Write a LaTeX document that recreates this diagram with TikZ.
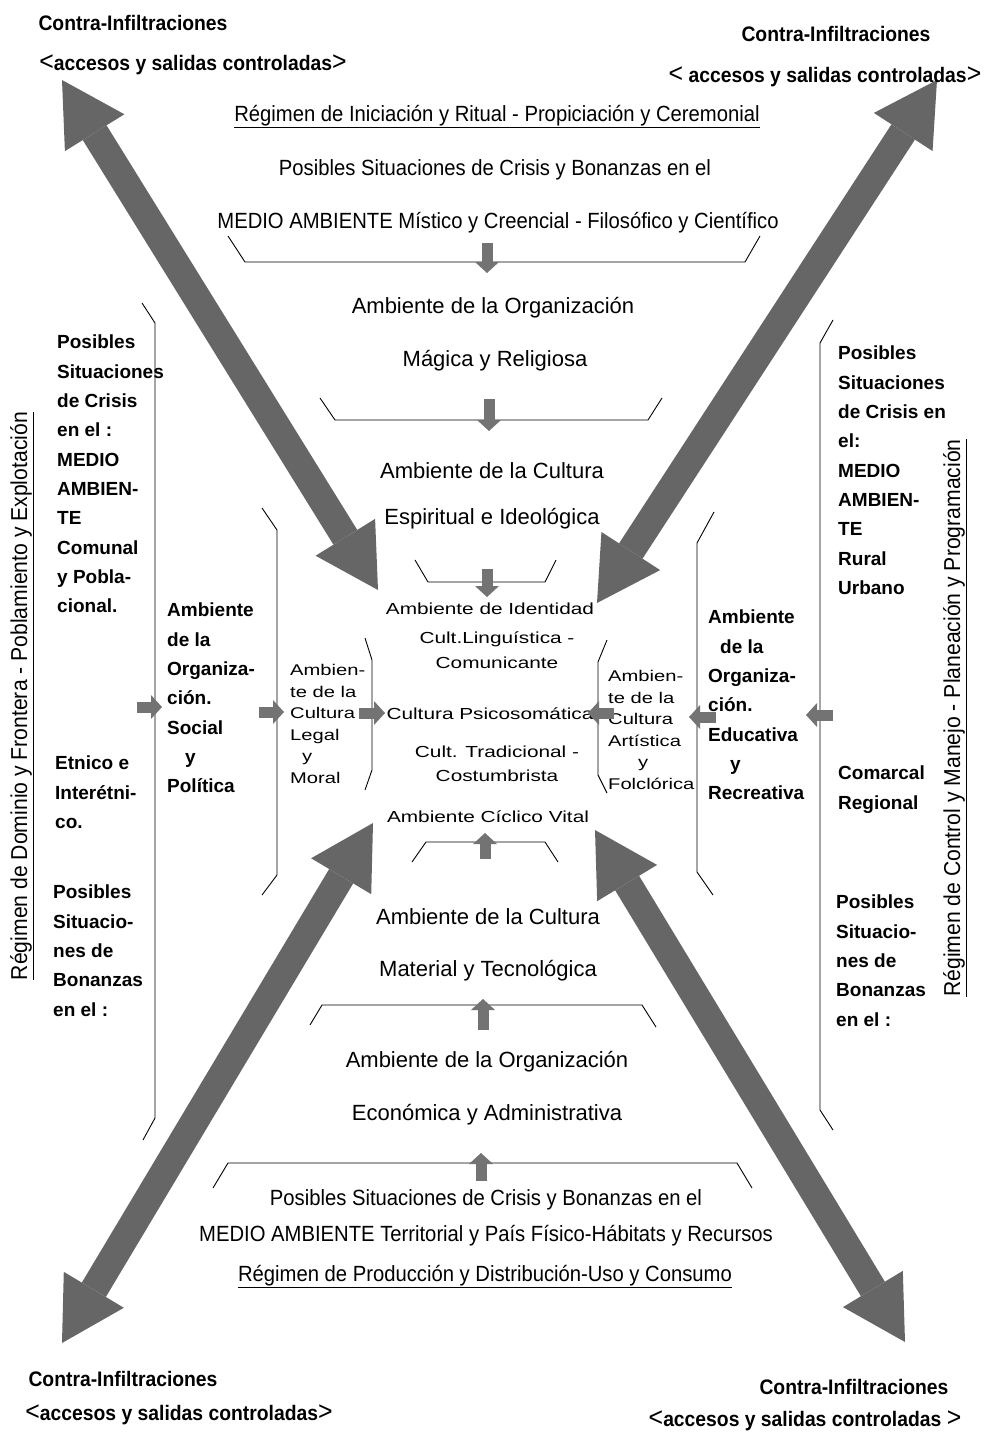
\documentclass[tikz,border=0pt]{standalone}
\usepackage{fontspec}
\setmainfont{Liberation Sans}
\newfontfamily\condfont[FakeStretch=0.92]{Liberation Sans}
\newfontfamily\widefont[FakeStretch=1.3]{Liberation Sans}
\usetikzlibrary{arrows.meta}

\newcommand{\lchev}{{\mdseries\fontsize{27}{27}\selectfont<}}
\newcommand{\rchev}{{\mdseries\fontsize{27}{27}\selectfont>}}

\tikzset{
  regime/.style={font=\condfont\fontsize{22}{26}\selectfont, inner sep=0pt, anchor=base},
  corner/.style={font=\condfont\bfseries\fontsize{21}{24}\selectfont, inner sep=0pt, anchor=base},
  midtext/.style={font=\fontsize{22}{26}\selectfont, inner sep=0pt, anchor=base},
  widetext/.style={font=\widefont\fontsize{16}{24.5}\selectfont, inner sep=0pt, align=center},
  sidecol/.style={font=\bfseries\fontsize{19}{29.3}\selectfont, inner sep=0pt, align=left, anchor=north west},
  innercol/.style={font=\widefont\fontsize{15.5}{21.6}\selectfont, inner sep=0pt, align=left, anchor=north west},
  sideregime/.style={font=\condfont\fontsize{23}{26}\selectfont, inner sep=0pt, rotate=90},
  brk/.style={line width=0.9pt},
  bigarrow/.style={line width=28pt, black!60,
    {Triangle[width=70pt,length=62pt,line width=0pt]}-{Triangle[width=70pt,length=62pt,line width=0pt]}},
  smallarr/.style={line width=11pt, black!55, -{Triangle[width=24pt,length=11pt,line width=0pt]}}
}

\begin{document}
\begin{tikzpicture}[x=1pt, y=-1pt, line join=round]
\useasboundingbox (0,0) rectangle (983,1432);

% big diagonal arrows
\coordinate (nwOut) at (62,80);    \coordinate (nwIn) at (378,590);
\coordinate (neOut) at (937,80);   \coordinate (neIn) at (597,603);
\coordinate (swOut) at (62,1343);  \coordinate (swIn) at (373,823);
\coordinate (seOut) at (905,1342); \coordinate (seIn) at (595,830);
\draw[bigarrow] (nwOut) -- (nwIn);
\draw[bigarrow] (neOut) -- (neIn);
\draw[bigarrow] (swOut) -- (swIn);
\draw[bigarrow] (seOut) -- (seIn);

% corners
\node[corner] (tlA) at (133,30) {Contra-Infiltraciones};
\node[corner] (tlB) at (193,70) {\lchev accesos y salidas controladas\rchev};
\node[corner] (trA) at (836,41) {Contra-Infiltraciones};
\node[corner] (trB) at (825,82) {\lchev\ accesos y salidas controladas\rchev};
\node[corner] (blA) at (123,1386) {Contra-Infiltraciones};
\node[corner] (blB) at (179,1420) {\lchev accesos y salidas controladas\rchev};
\node[corner] (brA) at (854,1394) {Contra-Infiltraciones};
\node[corner] (brB) at (805,1426) {\lchev accesos y salidas controladas\ \rchev};

% top chain
\node[regime] (topReg) at (497,121) {\underline{Régimen de Iniciación y Ritual - Propiciación y Ceremonial}};
\node[regime] (topPos) at (495,175) {Posibles Situaciones de Crisis y Bonanzas en el};
\node[regime] (topMed) at (498,228) {MEDIO AMBIENTE Místico y Creencial - Filosófico y Científico};
\node[midtext] (orgMag) at (493,313) {Ambiente de la Organización};
\node[midtext] (orgMagB) at (495,366) {Mágica y Religiosa};
\node[midtext] (culEsp) at (492,478) {Ambiente de la Cultura};
\node[midtext] (culEspB) at (492,524) {Espiritual e Ideológica};

% centre
\node[widetext, anchor=base] (ident) at (490,614) {Ambiente de Identidad};
\node[widetext] (ling) at (497,650) {Cult.Linguística -\\Comunicante};
\node[widetext, anchor=base] (psico) at (490,719) {Cultura Psicosomática};
\node[widetext] (trad) at (497,764) {Cult. Tradicional -\\Costumbrista};
\node[widetext, anchor=base] (ciclo) at (488,822) {Ambiente Cíclico Vital};

% bottom chain
\node[midtext] (culMat) at (488,924) {Ambiente de la Cultura};
\node[midtext] (culMatB) at (488,976) {Material y Tecnológica};
\node[midtext] (orgEco) at (487,1067) {Ambiente de la Organización};
\node[midtext] (orgEcoB) at (487,1120) {Económica y Administrativa};
\node[regime] (botPos) at (486,1205) {Posibles Situaciones de Crisis y Bonanzas en el};
\node[regime] (botMed) at (486,1241) {MEDIO AMBIENTE Territorial y País Físico-Hábitats y Recursos};
\node[regime] (botReg) at (485,1281) {\underline{Régimen de Producción y Distribución-Uso y Consumo}};

% left side
\node[sideregime] (leftReg) at (22,696) {\underline{Régimen de Dominio y Frontera - Poblamiento y Explotación}};
\node[sidecol] (leftCris) at (57,335) {Posibles\\Situaciones\\de Crisis\\en el :\\MEDIO\\AMBIEN-\\TE\\Comunal\\y Pobla-\\cional.};
\node[sidecol] (leftEtn) at (55,756) {Etnico e\\Interétni-\\co.};
\node[sidecol] (leftBon) at (53,885) {Posibles\\Situacio-\\nes de\\Bonanzas\\en el :};
\node[sidecol] (leftOrg) at (167,603) {Ambiente\\de la\\Organiza-\\ción.\\Social\\\hspace*{18pt}y\\Política};
\node[innercol] (leftCul) at (290,664) {Ambien-\\te de la\\Cultura\\Legal\\\hspace*{12pt}y\\Moral};

% right side
\node[sideregime] (rightReg) at (955,718) {\underline{Régimen de Control y Manejo - Planeación y Programación}};
\node[sidecol] (rightCris) at (838,346) {Posibles\\Situaciones\\de Crisis en\\el:\\MEDIO\\AMBIEN-\\TE\\Rural\\Urbano};
\node[sidecol] (rightCom) at (838,766) {Comarcal\\Regional};
\node[sidecol] (rightBon) at (836,895) {Posibles\\Situacio-\\nes de\\Bonanzas\\en el :};
\node[sidecol] (rightOrg) at (708,610) {Ambiente\\\hspace*{12pt}de la\\Organiza-\\ción.\\Educativa\\\hspace*{22pt}y\\Recreativa};
\node[innercol] (rightCul) at (608,670) {Ambien-\\te de la\\Cultura\\Artística\\\hspace*{30pt}y\\Folclórica};

% brackets
\draw[brk] (228,236) -- (245,262) -- (745,262) -- (760,236);
\draw[brk] (320,398) -- (335,420) -- (648,420) -- (662,398);
\draw[brk] (415,560) -- (428,582) -- (545,582) -- (556,560);
\draw[brk] (412,862) -- (426,842) -- (545,842) -- (558,862);
\draw[brk] (310,1025) -- (322,1005) -- (642,1005) -- (656,1027);
\draw[brk] (213,1188) -- (228,1163) -- (737,1163) -- (752,1188);
\draw[brk] (142,303) -- (155,323) -- (155,1118) -- (143,1140);
\draw[brk] (262,508) -- (277,530) -- (277,875) -- (262,895);
\draw[brk] (365,638) -- (372,660) -- (372,770) -- (365,790);
\draw[brk] (607,640) -- (598,662) -- (598,775) -- (607,793);
\draw[brk] (714,512) -- (697,543) -- (697,872) -- (713,895);
\draw[brk] (833,320) -- (820,343) -- (820,1110) -- (833,1130);

% small arrows between the levels
\foreach \n/\xa/\ya/\xb/\yb in {1/487/243/487/273, 2/489/399/489/431, 3/487/569/487/597,
    4/485/859/485/833, 5/483/1030/483/999, 6/481/1181/481/1153,
    7/137/707/162/707, 8/259/712/284/712, 9/359/713/385/713,
    10/614/713/588/713, 11/716/717/689/717, 12/833/715/806/715}{
  \coordinate (s\n) at (\xa,\ya);
  \coordinate (e\n) at (\xb,\yb);
  \draw[smallarr] (s\n) -- (e\n);
}
\end{tikzpicture}
\end{document}
